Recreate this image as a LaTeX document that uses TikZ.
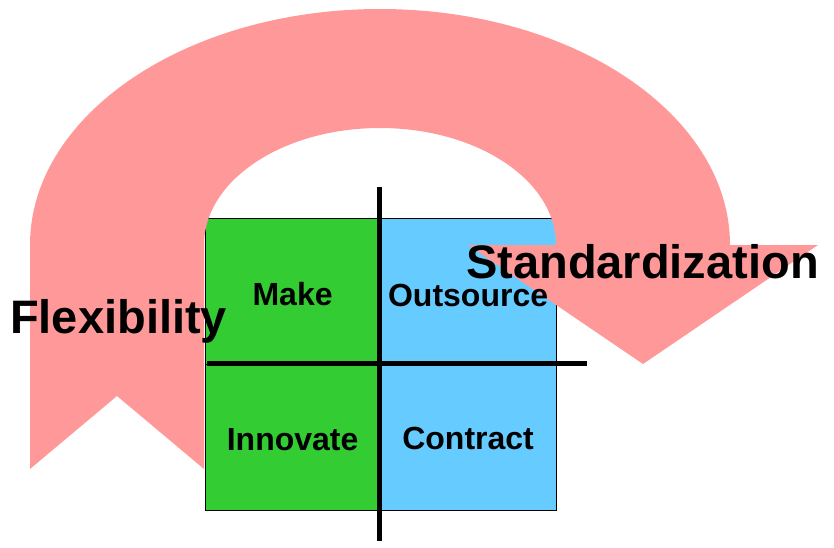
\documentclass[tikz,border=0pt]{standalone}
\usepackage{fontspec}
\setmainfont{Liberation Sans}
\definecolor{arrowpink}{HTML}{FF9999}
\definecolor{makegreen}{HTML}{33CC33}
\definecolor{buyblue}{HTML}{66CCFF}
\tikzset{
    cell/.style={draw=black,line width=1.2pt,minimum width=174pt,minimum height=146pt,inner sep=0pt,anchor=north west},
    celltext/.style={font=\fontsize{32}{34}\selectfont\bfseries,inner sep=0pt},
    bigtext/.style={font=\fontsize{47}{50}\selectfont\bfseries,inner sep=0pt,anchor=base west},
    axis/.style={line width=5pt}
}
\begin{document}
\begin{tikzpicture}[x=1pt,y=-1pt]
        \useasboundingbox (0,0) rectangle (834,547);
        %% Quadrants
        \node[cell,fill=makegreen] (make) at (205,218) {};
        \node[cell,fill=makegreen] (innovate) at (205,364) {};
        \node[cell,fill=buyblue,minimum width=177pt] (outsource) at (379,218) {};
        \node[cell,fill=buyblue,minimum width=177pt] (contract) at (379,364) {};
        %% Curved arrow
        \fill[arrowpink] (30,469) -- (30,245) arc[start angle=180,end angle=360,x radius=350,y radius=236]
            -- (818,245) -- (643,364) -- (468,245) -- (556,245)
            arc[start angle=0,end angle=-180,x radius=176,y radius=117]
            -- (204,469) -- (117,396) -- cycle;
        %% Axes
        \coordinate (top) at (379,187);
        \coordinate (bottom) at (379,541);
        \coordinate (left) at (207,363);
        \coordinate (right) at (587,363);
        \draw[axis] (top) -- (bottom);
        \draw[axis] (left) -- (right);
        %% Labels
        \node[celltext] (maketext) at ([yshift=-2pt]make.center) {Make};
        \node[celltext] (outsourcetext) at ([yshift=-4pt]outsource.center) {Outsource};
        \node[celltext] (innovatetext) at ([yshift=-2pt]innovate.center) {Innovate};
        \node[celltext] (contracttext) at ([yshift=-1pt]contract.center) {Contract};
        \node[bigtext] (flex) at (10,333) {Flexibility};
        \node[bigtext] (std) at (466,278) {Standardization};
    \end{tikzpicture}
\end{document}
